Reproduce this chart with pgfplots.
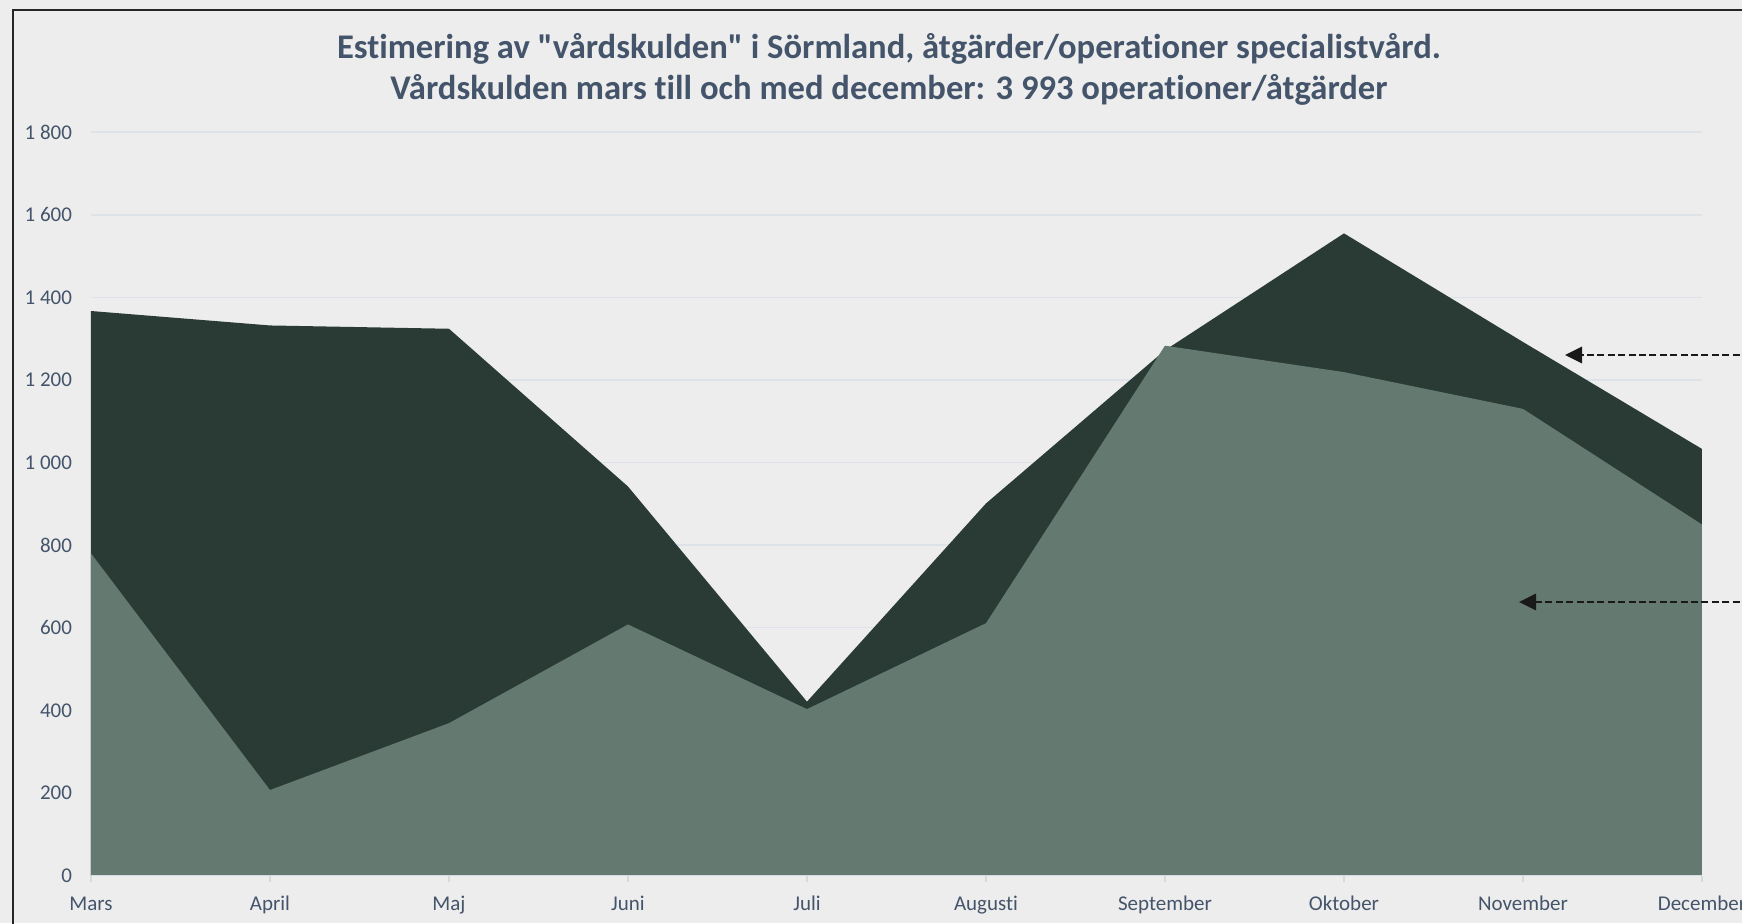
\documentclass[border=0pt]{standalone}
\usepackage{pgfplots}
\pgfplotsset{compat=1.18}
\usepackage{fontspec}
\setmainfont{Carlito}[Ligatures={NoCommon,TeXOff}]
\usetikzlibrary{arrows.meta}
\definecolor{bgc}{HTML}{EDEDED}
\definecolor{darkc}{HTML}{2A3B35}
\definecolor{lightc}{HTML}{64796F}
\definecolor{txtc}{HTML}{44546A}
\definecolor{gridc}{HTML}{DEE3E9}
\definecolor{axc}{HTML}{D6D9DD}
\begin{document}
\begin{tikzpicture}
\useasboundingbox (0,0) rectangle (871pt,461.5pt);
\clip (0,0) rectangle (871pt,461.5pt);
\fill[bgc] (0,0) rectangle (871pt,461.5pt);
\begin{axis}[
  at={(45.5pt,23.75pt)}, anchor=south west,
  scale only axis, width=805.5pt, height=371.65pt,
  xmin=0, xmax=9, ymin=0, ymax=1800,
  axis x line=bottom, axis y line=left,
  axis line style={draw=none},
  xtick={0,...,9},
  xticklabels={Mars,April,Maj,Juni,Juli,Augusti,September,Oktober,November,December},
  ytick={0,200,...,1800},
  yticklabels={0,200,400,600,800,1 000,1 200,1 400,1 600,1 800},
  tick align=outside, major tick length=3pt,
  xtick style={draw=axc, line width=0.75pt},
  ytick style={draw=none},
  ymajorgrids, grid style={draw=gridc, line width=0.75pt},
  ticklabel style={font=\fontsize{10.5}{12}\selectfont, text=txtc, inner sep=0pt},
  yticklabel style={anchor=east, xshift=-6.3pt},
  xticklabel style={anchor=base, yshift=-14.3pt},
  /pgf/number format/assume math mode=true,
]
\addplot[fill=darkc, draw=none] coordinates {
  (0,1367) (1,1332) (2,1324) (3,942) (4,421) (5,901) (6,1272) (7,1555) (8,1292) (9,1033)
} \closedcycle;
\addplot[fill=lightc, draw=none] coordinates {
  (0,780) (1,207) (2,369) (3,608) (4,403) (5,611) (6,1283) (7,1219) (8,1130) (9,850)
} \closedcycle;
\draw[axc, line width=0.75pt] (axis cs:0,0) -- (axis cs:9,0);
\end{axis}
\node[anchor=base, text=txtc, font=\fontsize{17.3}{20}\selectfont\bfseries, inner sep=0pt] at (444.5pt,432pt)
  {Estimering av "vårdskulden" i Sörmland, åtgärder/operationer specialistvård.};
\node[anchor=base, text=txtc, font=\fontsize{17.3}{20}\selectfont\bfseries, inner sep=0pt] at (444.5pt,411.5pt)
  {Vårdskulden mars till och med december: 3 993 operationer/åtgärder};
\draw[line width=1.35pt, color=black!90, dash pattern=on 3.5pt off 1.7pt, -{Triangle[length=8.5pt,width=8pt]}]
  (875pt,284pt) -- (782.5pt,284pt);
\draw[line width=1.35pt, color=black!90, dash pattern=on 3.5pt off 1.7pt, -{Triangle[length=8.5pt,width=8pt]}]
  (875pt,160.5pt) -- (759.5pt,160.5pt);
\draw[line width=0.75pt, color=black!85] (6.5pt,-2pt) -- (6.5pt,456.5pt) -- (875pt,456.5pt);
\end{tikzpicture}
\end{document}
